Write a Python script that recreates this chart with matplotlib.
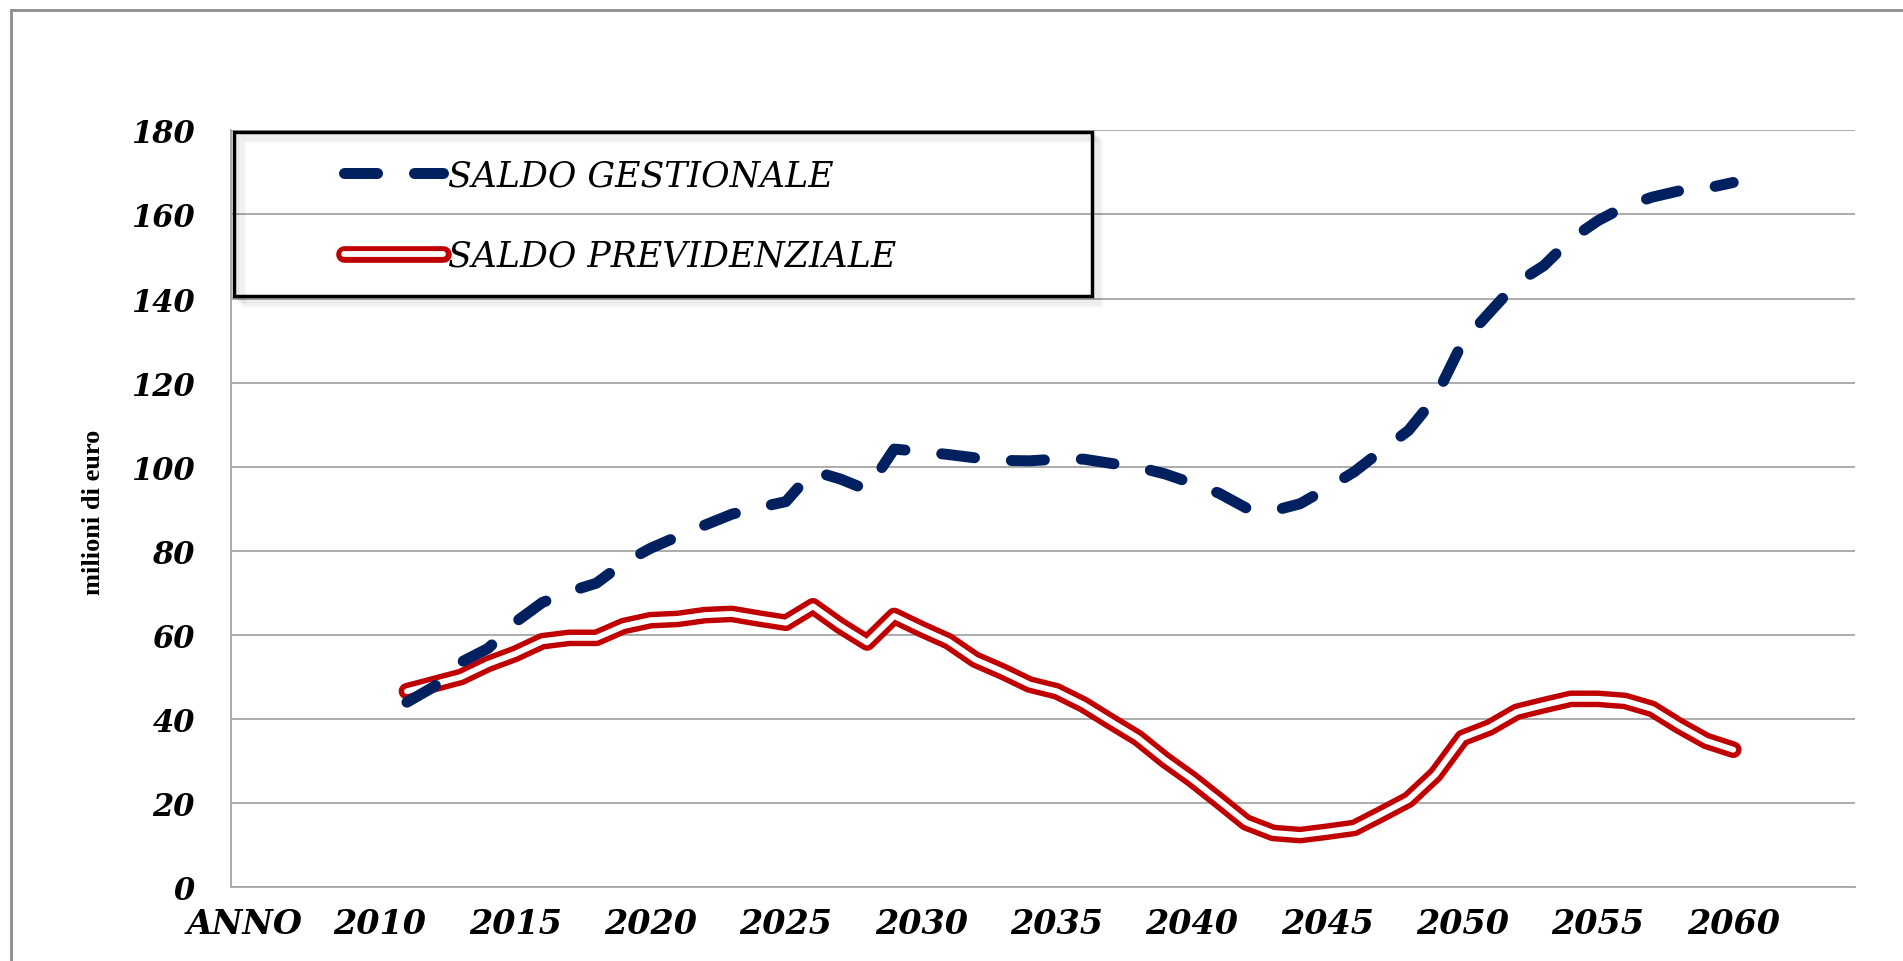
import numpy as np
import matplotlib
matplotlib.use('Agg')
import matplotlib.pyplot as plt
from matplotlib.patches import Rectangle
from matplotlib.legend_handler import HandlerTuple

plt.rcParams['font.family'] = 'Liberation Serif'
plt.rcParams['lines.scale_dashes'] = False

years = list(range(2011, 2061))

saldo_gestionale = [44.0, 47.7, 53.5, 56.8, 63.0, 67.7, 70.3, 72.3, 77.1, 80.6,
                    83.4, 86.1, 88.7, 90.3, 91.7, 99.0, 97.1, 94.5, 104.2, 103.6,
                    102.9, 102.1, 101.5, 101.4, 101.8, 101.8, 100.8, 99.9, 98.3, 96.1,
                    93.7, 90.2, 89.5, 91.2, 94.9, 98.8, 103.8, 108.6, 116.5, 129.6,
                    136.7, 143.7, 147.8, 154.1, 158.5, 161.9, 164.1, 165.6, 166.2, 167.6]

saldo_previdenziale = [46.6, 48.3, 50.0, 53.1, 55.5, 58.5, 59.3, 59.3, 62.1, 63.5,
                       63.8, 64.7, 65.0, 63.9, 62.9, 66.8, 62.2, 58.2, 64.5, 61.4,
                       58.5, 54.1, 51.3, 48.2, 46.6, 43.4, 39.4, 35.5, 30.3, 25.7,
                       20.6, 15.4, 12.9, 12.4, 13.2, 14.1, 17.4, 20.8, 26.8, 35.5,
                       38.0, 41.7, 43.3, 44.8, 44.8, 44.3, 42.4, 38.4, 34.8, 32.7]

tick_pos = list(range(2005, 2061, 5))
tick_labels = ['ANNO'] + [str(y) for y in range(2010, 2061, 5)]
y_ticks = list(range(0, 181, 20))

blue = '#002060'
red = '#C00000'
grid_col = '#A6A6A6'
wide_font = 'DejaVu Serif'

fig = plt.figure(figsize=(19.03, 9.62), dpi=100)
ax = fig.add_axes([0.1214, 0.0767, 0.8534, 0.7868])

# blue dashed series
l_blue, = ax.plot(years, saldo_gestionale, color=blue, lw=7.9,
                  dashes=(23.8, 26.6), dash_capstyle='round',
                  solid_capstyle='round', zorder=4)

# red double line: thick red + thin white on top
l_red, = ax.plot(years, saldo_previdenziale, color=red, lw=12,
                 solid_capstyle='round', solid_joinstyle='round', zorder=3)
l_red_in, = ax.plot(years, saldo_previdenziale, color='white', lw=4.2,
                    solid_capstyle='round', solid_joinstyle='round', zorder=3.5)

ax.set_xlim(2004.5, 2064.5)
ax.set_ylim(0, 180)
ax.set_xticks(tick_pos)
ax.set_xticklabels(tick_labels)
ax.set_yticks(y_ticks)

ax.grid(axis='y', color=grid_col, lw=1.3, zorder=1)
ax.set_axisbelow(True)
for s in ['top', 'right']:
    ax.spines[s].set_visible(False)
for s in ['left', 'bottom']:
    ax.spines[s].set_color(grid_col)
    ax.spines[s].set_linewidth(1.3)

ax.tick_params(axis='both', length=0)
ax.tick_params(axis='x', pad=14)
ax.tick_params(axis='y', pad=26)
for t in ax.get_xticklabels():
    t.set_fontfamily(wide_font)
    t.set_fontsize(24)
    t.set_fontweight('bold')
    t.set_fontstyle('italic')
for t in ax.get_yticklabels():
    t.set_fontfamily(wide_font)
    t.set_fontsize(22)
    t.set_fontweight('bold')
    t.set_fontstyle('italic')

ax.set_ylabel('milioni di euro', fontsize=19, fontweight='bold', va='center')
ax.yaxis.set_label_coords(-0.0844, 0.497)

# legend box with soft shadow
bx, by, bw, bh = 0.002, 0.781, 0.528, 0.2167
for k, a in enumerate([0.06, 0.05, 0.04, 0.03]):
    off = 0.0015 * (k + 1)
    ax.add_patch(Rectangle((bx + off, by - off * 2), bw, bh, transform=ax.transAxes,
                           facecolor='none', edgecolor='black', lw=2.5, alpha=a,
                           clip_on=False, zorder=5))
ax.add_patch(Rectangle((bx, by), bw, bh, transform=ax.transAxes, facecolor='none',
                       edgecolor='black', lw=2.5, clip_on=False, zorder=6))

leg = ax.legend([l_blue, (l_red, l_red_in)],
                ['SALDO GESTIONALE', 'SALDO PREVIDENZIALE'],
                handler_map={tuple: HandlerTuple(ndivide=1)},
                loc='center left', bbox_to_anchor=(0.0693, 0.8875),
                frameon=False, borderpad=0, borderaxespad=0,
                handlelength=2.85, handletextpad=0.15, labelspacing=1.35,
                prop={'family': wide_font, 'style': 'italic', 'size': 25})
leg.set_zorder(7)

# outer chart border
fig.add_artist(Rectangle((11 / 1903, -0.1), 1.2, (962 - 11) / 962 + 0.1,
                         transform=fig.transFigure, fill=False,
                         edgecolor='#8C8C8C', lw=2))

fig.savefig('out.png', dpi=100)
